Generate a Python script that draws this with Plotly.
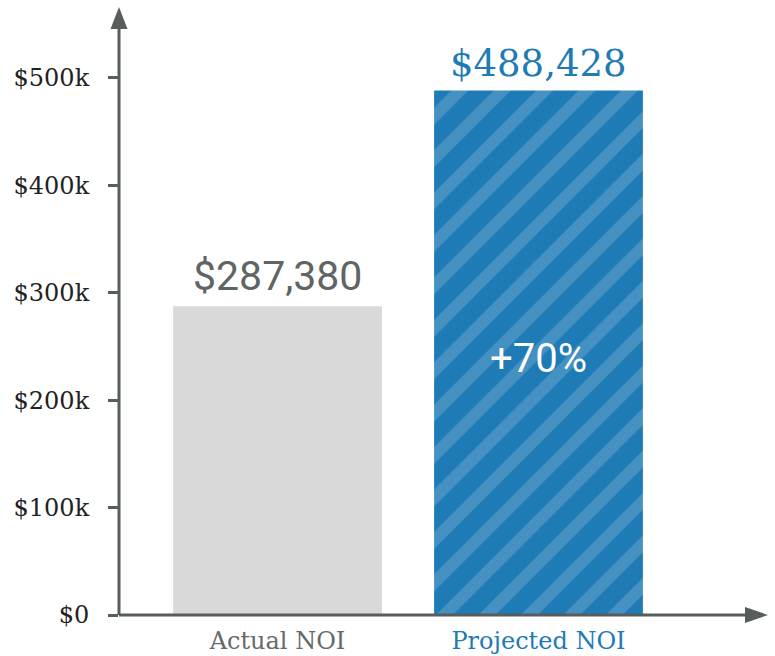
import plotly.graph_objects as go

categories = ["Actual NOI", "Projected NOI"]
values = [287380, 488428]
value_labels = ["$287,380", "$488,428"]
change_label = "+70%"
y_tick_vals = [0, 100000, 200000, 300000, 400000, 500000]
y_tick_text = ["$0", "$100k", "$200k", "$300k", "$400k", "$500k"]

BLUE = "#1f7bb6"
GRAY_BAR = "#d9d9d9"
AXIS = "#575d5d"
TEXT_GRAY = "#5f6464"
SLAB = "DejaVu Serif"
SANS = "Roboto"

fig = go.Figure()
fig.add_trace(go.Bar(
    x=categories[:1], y=values[:1], width=0.8,
    marker=dict(color=GRAY_BAR, line=dict(width=0)),
    hoverinfo="skip",
))
fig.add_trace(go.Bar(
    x=categories[1:], y=values[1:], width=0.8,
    marker=dict(color=BLUE, line=dict(width=0),
                pattern=dict(shape="/", fgcolor="#ffffff", fgopacity=0.17,
                             size=30, solidity=0.4, fillmode="overlay")),
    hoverinfo="skip",
))

# value labels
fig.add_annotation(x=categories[0], y=values[0], text=value_labels[0],
                   showarrow=False, yanchor="bottom", yshift=4,
                   font=dict(family=SANS, size=41, color=TEXT_GRAY))
fig.add_annotation(x=categories[1], y=values[1], text=value_labels[1],
                   showarrow=False, yanchor="bottom", yshift=3,
                   font=dict(family=SLAB, size=37, color=BLUE))
fig.add_annotation(x=categories[1], y=values[1] / 2, text=change_label,
                   showarrow=False, yanchor="middle", yshift=-6,
                   font=dict(family=SANS, size=40, color="white"))

# axis lines with arrow heads (paper coords)
W, H = 649.0, 608.0
ybase = (615 - 29) / H
xbase = (745 - 119) / W
fig.add_shape(type="line", xref="paper", yref="paper", x0=0, x1=0, y0=0, y1=ybase,
              line=dict(color=AXIS, width=3))
fig.add_shape(type="path", xref="paper", yref="paper",
              path=f"M {-8.5/W},{ybase} L {8.5/W},{ybase} L 0,1 Z",
              fillcolor=AXIS, line=dict(width=0))
fig.add_shape(type="line", xref="paper", yref="paper", x0=0, x1=xbase, y0=0, y1=0,
              line=dict(color=AXIS, width=3))
fig.add_shape(type="path", xref="paper", yref="paper",
              path=f"M {xbase},{8/H} L {xbase},{-8/H} L 1,0 Z",
              fillcolor=AXIS, line=dict(width=0))

tick_colors = ["#666a6a", BLUE]
fig.update_layout(
    width=775, height=656,
    margin=dict(l=119, r=7, t=7, b=41, autoexpand=False),
    paper_bgcolor="white", plot_bgcolor="white",
    showlegend=False,
    bargap=0.2,
    xaxis=dict(
        type="category", range=[-0.6073, 1.8793], automargin=False,
        showline=False, showgrid=False, zeroline=False, ticks="",
        tickvals=categories,
        ticktext=[f"<span style='color:{c}'>{t}</span>" for t, c in zip(categories, tick_colors)],
        tickfont=dict(family=SLAB, size=24),
        ticklabelstandoff=9,
    ),
    yaxis=dict(
        range=[0, 566100], automargin=False,
        showline=False, showgrid=False, zeroline=False,
        tickvals=y_tick_vals, ticktext=y_tick_text,
        ticks="outside", ticklen=10, tickwidth=3, tickcolor=AXIS,
        tickfont=dict(family=SLAB, size=24, color="#222222"),
        ticklabelstandoff=14,
    ),
)

fig.write_html("out.html", config={"displayModeBar": False},
               post_script="document.body.style.margin='0';document.body.style.overflow='hidden';")
